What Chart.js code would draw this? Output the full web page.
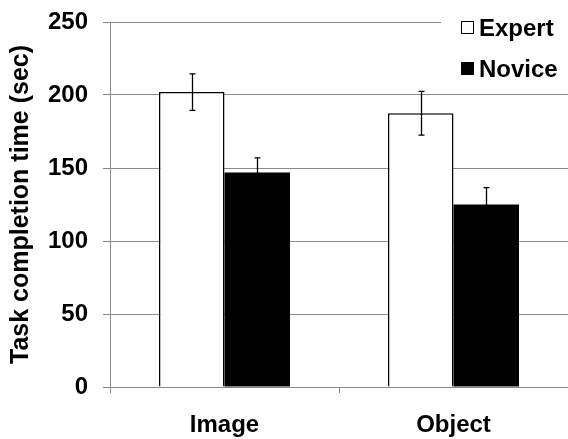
<!DOCTYPE html>
<html>
<head>
<meta charset="utf-8">
<script src="https://cdn.jsdelivr.net/npm/chart.js@4/dist/chart.umd.min.js"></script>
<style>
html,body{margin:0;padding:0;background:#fff;}
#wrap{width:568px;height:439px;}
</style>
</head>
<body>
<div id="wrap"><canvas id="c" width="568" height="439"></canvas></div>
<script>
const categories = ['Image', 'Object'];
const seriesNames = ['Expert', 'Novice'];
const expertValues = [202, 187.5];
const expertErrors = [12.5, 15];
const noviceValues = [147, 125];
const noviceErrors = [10, 11.5];
const yTicks = [0, 50, 100, 150, 200, 250];

const FONT = "'Liberation Sans', Arial, sans-serif";
const errs = [expertErrors, noviceErrors];

const errorBarPlugin = {
  id: 'errorBars',
  afterDatasetsDraw(chart) {
    const ctx = chart.ctx;
    const y = chart.scales.y;
    ctx.save();
    ctx.strokeStyle = '#000';
    ctx.lineWidth = 1.3;
    chart.data.datasets.forEach((ds, di) => {
      const meta = chart.getDatasetMeta(di);
      meta.data.forEach((bar, i) => {
        const v = ds.data[i], e = errs[di][i];
        const x = Math.round(bar.x) + 0.5;
        const yt = y.getPixelForValue(v + e);
        const yb = y.getPixelForValue(v - e);
        ctx.beginPath();
        ctx.moveTo(x, yt); ctx.lineTo(x, yb);
        ctx.moveTo(x - 3, yt); ctx.lineTo(x + 3, yt);
        ctx.moveTo(x - 3, yb); ctx.lineTo(x + 3, yb);
        ctx.stroke();
      });
    });
    ctx.restore();
  }
};

const legendPlugin = {
  id: 'customLegend',
  afterDraw(chart) {
    const ctx = chart.ctx;
    ctx.save();
    ctx.fillStyle = '#fff';
    ctx.fillRect(441, 6, 127, 84);
    const rows = [28, 69];
    chart.data.datasets.forEach((ds, i) => {
      const cy = rows[i];
      ctx.fillStyle = ds.backgroundColor;
      ctx.fillRect(461, cy - 7, 13, 13);
      ctx.strokeStyle = '#000';
      ctx.lineWidth = 1;
      ctx.strokeRect(461.5, cy - 6.5, 12, 12);
      ctx.fillStyle = '#000';
      ctx.font = "bold 24px " + FONT;
      ctx.textBaseline = 'middle';
      ctx.textAlign = 'left';
      ctx.fillText(ds.label, 479, cy + 1);
    });
    ctx.restore();
  }
};

new Chart(document.getElementById('c'), {
  type: 'bar',
  data: {
    labels: categories,
    datasets: [
      { label: seriesNames[0], data: expertValues, backgroundColor: '#ffffff', borderColor: '#000', borderWidth: 1.5, categoryPercentage: 0.572, barPercentage: 1 },
      { label: seriesNames[1], data: noviceValues, backgroundColor: '#000000', borderColor: '#000', borderWidth: 0, categoryPercentage: 0.572, barPercentage: 1 }
    ]
  },
  options: {
    responsive: false,
    animation: false,
    events: [],
    layout: { padding: { top: 22, right: 0, left: 0, bottom: 0 } },
    plugins: { legend: { display: false }, tooltip: { enabled: false } },
    scales: {
      x: {
        grid: { drawOnChartArea: false, drawTicks: true, tickLength: 6, color: '#8a8a8a', offset: true },
        border: { color: '#8a8a8a', width: 1 },
        ticks: { color: '#000', font: { family: FONT, size: 24, weight: 'bold' }, padding: 18 },
        afterFit(s) { s.height = 52; }
      },
      y: {
        min: 0, max: 250,
        afterBuildTicks(s) { s.ticks = yTicks.map(v => ({ value: v })); },
        grid: { color: '#8a8a8a', tickLength: 7, lineWidth: 1 },
        border: { color: '#8a8a8a', width: 1 },
        ticks: { color: '#000', font: { family: FONT, size: 24, weight: 'bold' }, padding: 15 },
        title: { display: true, text: 'Task completion time (sec)', color: '#000', font: { family: FONT, size: 25, weight: 'bold' }, padding: { top: 6, bottom: 0 } },
        afterFit(s) { s.width = 110; s.paddingTop = 0; s.paddingBottom = 0; }
      }
    }
  },
  plugins: [errorBarPlugin, legendPlugin]
});
</script>
</body>
</html>
